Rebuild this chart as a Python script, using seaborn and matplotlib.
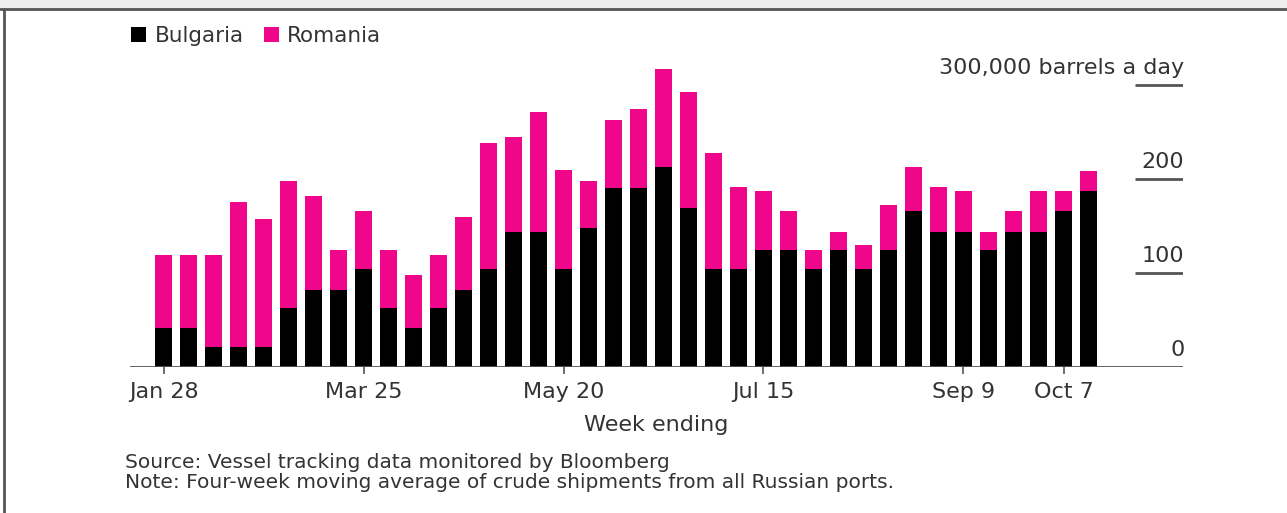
import matplotlib
matplotlib.use("Agg")
import matplotlib.pyplot as plt
import seaborn as sns
import pandas as pd
from matplotlib.patches import Patch, Rectangle
from matplotlib.lines import Line2D

weeks = ["Jan 28", "Feb 4", "Feb 11", "Feb 18", "Feb 25", "Mar 4", "Mar 11", "Mar 18",
         "Mar 25", "Apr 1", "Apr 8", "Apr 15", "Apr 22", "Apr 29", "May 6", "May 13",
         "May 20", "May 27", "Jun 3", "Jun 10", "Jun 17", "Jun 24", "Jul 1", "Jul 8",
         "Jul 15", "Jul 22", "Jul 29", "Aug 5", "Aug 12", "Aug 19", "Aug 26", "Sep 2",
         "Sep 9", "Sep 16", "Sep 23", "Sep 30", "Oct 7", "Oct 14"]
bulgaria = [41, 41, 21, 21, 21, 63, 82, 82, 104, 63, 41, 63, 82, 104, 144, 144,
            104, 148, 190, 190, 213, 169, 104, 104, 125, 125, 104, 125, 104, 125,
            166, 144, 144, 125, 144, 144, 166, 187]
romania = [78, 78, 98, 155, 136, 135, 100, 43, 62, 62, 57, 56, 78, 134, 101, 127,
           106, 50, 73, 84, 104, 124, 124, 88, 62, 41, 21, 19, 26, 47, 47, 48,
           43, 19, 22, 43, 21, 21]
labeled_weeks = ["Jan 28", "Mar 25", "May 20", "Jul 15", "Sep 9", "Oct 7"]
y_ticks = [0, 100, 200, 300]
y_labels = ["0", "100", "200", "300,000 barrels a day"]

BLACK = "#000000"
PINK = "#f0068a"
TXT = "#333333"

df = pd.DataFrame({"week": weeks, "Bulgaria": bulgaria, "Romania": romania})
df["total"] = df["Bulgaria"] + df["Romania"]

sns.set_theme(style="white")
plt.rcParams["font.family"] = ["DejaVu Sans"]

W, H = 1287, 513
fig = plt.figure(figsize=(W / 100, H / 100), dpi=100)
ax = fig.add_axes([130 / W, 1 - 367 / H, (1183 - 130) / W, (367 - 60) / H])

sns.barplot(data=df, x="week", y="total", color=PINK, width=0.68, ax=ax,
            saturation=1, edgecolor="none", order=weeks)
sns.barplot(data=df, x="week", y="Bulgaria", color=BLACK, width=0.68, ax=ax,
            saturation=1, edgecolor="none", order=weeks)

ax.set_xlim(-1.34, 40.78)
ax.set_ylim(0, 326.6)
for s in ax.spines.values():
    s.set_visible(False)
ax.set_ylabel("")
ax.set_yticks([])

# baseline and short grid lines on the right
ax.axhline(0, color="#555555", lw=2, zorder=5)
x_grid_start = 38.86
for v, lab in zip(y_ticks, y_labels):
    if v > 0:
        ax.hlines(v, x_grid_start, 40.78, color="#555555", lw=2)
    ax.annotate(lab, xy=(40.78, v), xytext=(1, 12.5), textcoords="offset points",
                ha="right", va="center", fontsize=16, color=TXT)

idx = [weeks.index(w) for w in labeled_weeks]
ax.set_xticks(idx)
ax.set_xticklabels(labeled_weeks, fontsize=16, color=TXT)
ax.tick_params(axis="x", length=5, width=1.2, color="#555555", pad=6, bottom=True)
ax.set_xlabel("Week ending", fontsize=16, color=TXT, labelpad=9)

# legend
handles = [Patch(facecolor=BLACK, edgecolor="none", label="Bulgaria"),
           Patch(facecolor=PINK, edgecolor="none", label="Romania")]
fig.legend(handles=handles, loc="center left", bbox_to_anchor=(112 / W, 1 - 36 / H),
           ncol=2, frameon=False, fontsize=15.5, handlelength=0.7, handleheight=0.7,
           handletextpad=0.4, columnspacing=0.9, labelcolor=TXT)

fig.text(125 / W, 1 - 462 / H, "Source: Vessel tracking data monitored by Bloomberg",
         fontsize=14.5, color=TXT, va="center", ha="left")
fig.text(125 / W, 1 - 482 / H,
         "Note: Four-week moving average of crude shipments from all Russian ports.",
         fontsize=14.5, color=TXT, va="center", ha="left")

# frame
fig.patches.append(Rectangle((0, 1 - 8 / H), 1, 8 / H, transform=fig.transFigure,
                             facecolor="#eeeeee", edgecolor="none"))
fig.lines.append(Line2D([0, 1], [1 - 9 / H, 1 - 9 / H], transform=fig.transFigure,
                        color="#555555", lw=2))
fig.lines.append(Line2D([4 / W, 4 / W], [0, 1 - 9 / H], transform=fig.transFigure,
                        color="#555555", lw=2))

fig.savefig("out.png", dpi=100, facecolor="white")
